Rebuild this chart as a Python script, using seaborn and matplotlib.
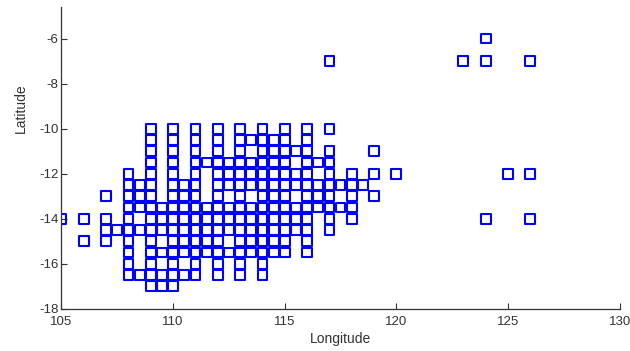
import matplotlib
matplotlib.use("Agg")
import matplotlib.pyplot as plt
import seaborn as sns
import pandas as pd

lat_values = [-6, -7, -10, -10.5, -11, -11.5, -12, -12.5, -13, -13.5,
              -14, -14.5, -15, -15.5, -16, -16.5, -17]
lon_at_m6 = [124]
lon_at_m7 = [117, 123, 124, 126]
lon_at_m10 = [109, 110, 111, 112, 113, 114, 115, 116, 117]
lon_at_m10_5 = [109, 110, 111, 112, 113, 113.5, 114, 114.5, 115, 116]
lon_at_m11 = [109, 110, 111, 112, 113, 114, 114.5, 115, 115.5, 116, 117, 119]
lon_at_m11_5 = [109, 110, 111, 111.5, 112, 112.5, 113, 113.5, 114, 114.5, 115,
                116, 116.5, 117]
lon_at_m12 = [108, 109, 110, 111, 112, 112.5, 113, 113.5, 114, 114.5, 115,
              115.5, 116, 117, 118, 119, 120, 125, 126]
lon_at_m12_5 = [108, 108.5, 109, 110, 110.5, 111, 112, 112.5, 113, 113.5, 114,
                114.5, 115, 115.5, 116, 116.5, 117, 117.5, 118, 118.5]
lon_at_m13 = [107, 108, 108.5, 109, 110, 110.5, 111, 112, 113, 114, 114.5, 115,
              116, 116.5, 117, 118, 119]
lon_at_m13_5 = [108, 108.5, 109, 109.5, 110, 110.5, 111, 111.5, 112, 112.5, 113,
                113.5, 114, 114.5, 115, 115.5, 116, 116.5, 117, 117.5, 118]
lon_at_m14 = [105, 106, 107, 108, 109, 109.5, 110, 110.5, 111, 111.5, 112, 112.5,
              113, 113.5, 114, 114.5, 115, 115.5, 116, 117, 118, 124, 126]
lon_at_m14_5 = [107, 107.5, 108, 108.5, 109, 109.5, 110, 110.5, 111, 111.5, 112,
                112.5, 113, 113.5, 114, 114.5, 115, 115.5, 116, 117]
lon_at_m15 = [106, 107, 108, 109, 110, 110.5, 111, 111.5, 112, 113, 113.5, 114,
              114.5, 115, 116]
lon_at_m15_5 = [108, 109, 109.5, 110, 110.5, 111, 111.5, 112, 112.5, 113, 113.5,
                114, 114.5, 115, 116]
lon_at_m16 = [108, 109, 110, 111, 112, 113, 114]
lon_at_m16_5 = [108, 108.5, 109, 109.5, 110, 110.5, 111, 112, 113, 114]
lon_at_m17 = [109, 109.5, 110]

lon_rows = [lon_at_m6, lon_at_m7, lon_at_m10, lon_at_m10_5, lon_at_m11,
            lon_at_m11_5, lon_at_m12, lon_at_m12_5, lon_at_m13, lon_at_m13_5,
            lon_at_m14, lon_at_m14_5, lon_at_m15, lon_at_m15_5, lon_at_m16,
            lon_at_m16_5, lon_at_m17]

x_ticks = [105, 110, 115, 120, 125, 130]
y_ticks = [-6, -8, -10, -12, -14, -16, -18]

lons, lats = [], []
for lat, row in zip(lat_values, lon_rows):
    for lon in row:
        lons.append(lon)
        lats.append(lat)
df = pd.DataFrame({"Longitude": lons, "Latitude": lats})

sns.set_style("ticks")
plt.rcParams["font.family"] = ["Liberation Sans", "DejaVu Sans"]
plt.rcParams["axes.unicode_minus"] = False

fig = plt.figure(figsize=(6.3, 3.51), dpi=100)
ax = fig.add_axes([0.0976, 0.12, 0.886, 0.86])

sns.scatterplot(data=df, x="Longitude", y="Latitude", ax=ax, marker="s",
                s=50, facecolors="none", edgecolors="#0000ff", linewidth=1.5)

ax.set_xlim(105, 130)
ax.set_ylim(-18, -4.6)
ax.set_xticks(x_ticks)
ax.set_yticks(y_ticks)
ax.set_yticklabels([str(v) for v in y_ticks])
ax.tick_params(direction="in", length=4, width=0.8, labelsize=9.5,
               colors="#333333", labelcolor="#333333")
ax.tick_params(axis="x", pad=5)
ax.tick_params(axis="y", pad=2)
for s in ["top", "right"]:
    ax.spines[s].set_visible(False)
for s in ["left", "bottom"]:
    ax.spines[s].set_linewidth(0.9)
    ax.spines[s].set_color("#333333")
ax.set_xlabel("Longitude", fontsize=10, color="#333333")
ax.set_ylabel("Latitude", fontsize=10, color="#333333")
ax.xaxis.set_label_coords(0.5, -0.075)
ax.yaxis.set_label_coords(-0.06, 0.666)

fig.savefig("out.png", dpi=100)
